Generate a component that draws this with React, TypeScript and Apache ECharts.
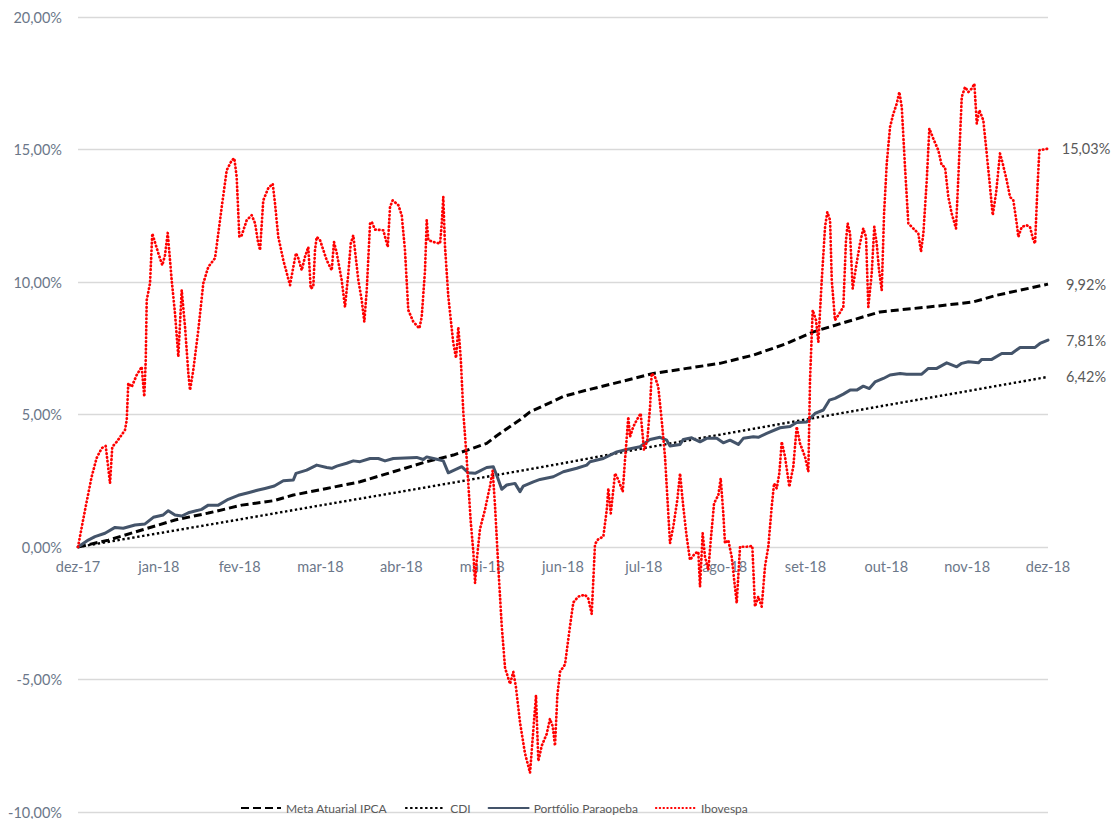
import React, { useEffect, useRef } from 'react';
import * as echarts from 'echarts';

// x = position in months from the start (0 = dez-17, 12 = dez-18), y = accumulated return (%)
const monthLabels = ['dez-17', 'jan-18', 'fev-18', 'mar-18', 'abr-18', 'mai-18', 'jun-18', 'jul-18', 'ago-18', 'set-18', 'out-18', 'nov-18', 'dez-18'];
const seriesNames = ['Meta Atuarial IPCA', 'CDI', 'Portfólio Paraopeba', 'Ibovespa'];
const yMin = -10;
const yMax = 20;
const yStep = 5;

const metaIPCA: [number, number][] = [
  [0, 0], [0.375, 0.26], [0.788, 0.64], [1.2, 1.02], [1.612, 1.28], [2.025, 1.58], [2.425, 1.75],
  [2.664, 1.96], [3.077, 2.21], [3.489, 2.46], [3.901, 2.84], [4.314, 3.22], [4.643, 3.47],
  [5.056, 3.91], [5.18, 4.2], [5.468, 4.8], [5.592, 5.1], [5.88, 5.5], [6.004, 5.68], [6.293, 5.92],
  [6.705, 6.23], [7.118, 6.55], [7.53, 6.74], [7.942, 6.93], [8.355, 7.24], [8.768, 7.68],
  [9.097, 8.12], [9.51, 8.5], [9.922, 8.87], [10.334, 9.0], [10.747, 9.13], [11.076, 9.25],
  [11.365, 9.5], [11.654, 9.69], [12, 9.92],
];

const cdi: [number, number][] = [
  [0, 0], [1, 0.52], [2, 1.04], [3, 1.57], [4, 2.09], [5, 2.62], [6, 3.16], [7, 3.73],
  [8, 4.27], [9, 4.81], [10, 5.35], [11, 5.88], [12, 6.42],
];

const portfolio: [number, number][] = [
  [0, 0], [0.127, 0.26], [0.21, 0.39], [0.334, 0.52], [0.458, 0.74], [0.56, 0.71], [0.705, 0.83],
  [0.829, 0.87], [0.932, 1.12], [1.055, 1.21], [1.117, 1.37], [1.2, 1.21], [1.283, 1.17],
  [1.365, 1.29], [1.53, 1.42], [1.612, 1.58], [1.736, 1.58], [1.859, 1.8], [1.983, 1.95],
  [2.107, 2.05], [2.231, 2.15], [2.313, 2.21], [2.429, 2.3], [2.54, 2.5], [2.664, 2.53],
  [2.697, 2.78], [2.829, 2.9], [2.953, 3.09], [3.077, 3.0], [3.139, 2.97], [3.201, 3.05],
  [3.324, 3.16], [3.406, 3.25], [3.489, 3.22], [3.613, 3.34], [3.715, 3.34], [3.798, 3.25],
  [3.901, 3.34], [4.19, 3.38], [4.272, 3.3], [4.314, 3.4], [4.438, 3.31], [4.519, 3.25],
  [4.581, 2.8], [4.747, 3.03], [4.829, 2.8], [4.912, 2.78], [5.056, 3.0], [5.138, 3.03],
  [5.187, 2.65], [5.242, 2.18], [5.304, 2.34], [5.406, 2.4], [5.468, 2.09], [5.509, 2.3],
  [5.633, 2.46], [5.716, 2.55], [5.88, 2.65], [6.004, 2.84], [6.17, 2.97], [6.293, 3.09],
  [6.334, 3.22], [6.499, 3.34], [6.665, 3.59], [6.788, 3.68], [6.953, 3.78], [7.077, 4.06],
  [7.2, 4.14], [7.283, 4.03], [7.324, 3.81], [7.448, 3.87], [7.489, 4.06], [7.592, 4.12],
  [7.695, 3.97], [7.778, 4.1], [7.902, 4.1], [7.983, 3.93], [8.066, 4.03], [8.169, 3.87],
  [8.231, 4.1], [8.355, 4.16], [8.416, 4.14], [8.52, 4.29], [8.685, 4.5], [8.809, 4.55],
  [8.891, 4.7], [9.015, 4.72], [9.118, 5.04], [9.221, 5.17], [9.295, 5.54], [9.365, 5.61],
  [9.468, 5.77], [9.551, 5.92], [9.634, 5.92], [9.715, 6.07], [9.79, 5.98], [9.86, 6.23],
  [9.963, 6.36], [10.046, 6.49], [10.17, 6.55], [10.252, 6.52], [10.438, 6.52], [10.52, 6.74],
  [10.624, 6.74], [10.747, 6.95], [10.871, 6.8], [10.933, 6.93], [11.015, 6.99], [11.139, 6.95],
  [11.181, 7.08], [11.304, 7.08], [11.428, 7.3], [11.551, 7.3], [11.654, 7.53], [11.84, 7.53],
  [11.901, 7.68], [12, 7.81],
];

const ibovespa: [number, number][] = [
  [0, 0], [0.087, 1.4], [0.169, 2.65], [0.231, 3.36], [0.293, 3.73], [0.343, 3.81], [0.396, 2.41],
  [0.424, 3.78], [0.479, 3.97], [0.581, 4.41], [0.603, 4.79], [0.622, 6.18], [0.664, 6.04],
  [0.726, 6.49], [0.788, 6.8], [0.82, 5.67], [0.838, 7.05], [0.85, 9.31], [0.891, 9.95],
  [0.919, 11.83], [0.993, 11.09], [1.043, 10.63], [1.076, 11.01], [1.11, 11.85], [1.159, 10.07],
  [1.2, 8.82], [1.241, 7.18], [1.283, 9.69], [1.324, 8.31], [1.365, 6.56], [1.386, 5.92],
  [1.426, 6.67], [1.488, 8.18], [1.55, 9.95], [1.612, 10.57], [1.695, 10.9], [1.736, 11.84],
  [1.778, 12.83], [1.84, 14.22], [1.902, 14.59], [1.934, 14.67], [1.963, 13.96], [1.996, 11.7],
  [2.025, 11.76], [2.087, 12.33], [2.149, 12.52], [2.19, 12.22], [2.223, 11.58], [2.252, 11.2],
  [2.292, 13.08], [2.354, 13.54], [2.409, 13.71], [2.437, 12.97], [2.478, 11.7], [2.54, 10.82],
  [2.623, 9.88], [2.664, 10.57], [2.697, 11.09], [2.725, 10.9], [2.768, 10.44], [2.808, 10.95],
  [2.849, 11.32], [2.879, 9.75], [2.911, 9.82], [2.932, 11.2], [2.953, 11.7], [2.994, 11.58],
  [3.077, 10.82], [3.139, 10.44], [3.167, 11.51], [3.201, 11.09], [3.262, 10.07], [3.303, 9.06],
  [3.344, 10.32], [3.374, 11.45], [3.406, 11.76], [3.468, 10.07], [3.51, 9.31], [3.542, 8.5],
  [3.572, 9.69], [3.613, 12.21], [3.634, 12.27], [3.674, 11.98], [3.777, 11.95], [3.832, 11.32],
  [3.86, 12.83], [3.893, 13.08], [3.963, 12.9], [4.005, 12.52], [4.045, 11.2], [4.086, 8.94],
  [4.148, 8.5], [4.223, 8.25], [4.252, 8.68], [4.293, 10.44], [4.314, 12.33], [4.334, 11.58],
  [4.396, 11.51], [4.479, 11.45], [4.5, 12.21], [4.519, 13.21], [4.54, 11.35], [4.581, 9.46],
  [4.643, 7.69], [4.677, 7.13], [4.705, 8.3], [4.735, 7.13], [4.767, 5.07], [4.809, 3.32],
  [4.858, 0.98], [4.891, -0.19], [4.912, -1.36], [4.933, -0.49], [4.973, 0.68], [5.035, 1.41],
  [5.097, 2.3], [5.13, 2.88], [5.159, 1.56], [5.2, -0.78], [5.242, -2.97], [5.283, -4.56],
  [5.345, -5.17], [5.385, -4.71], [5.419, -5.31], [5.468, -6.62], [5.53, -7.79], [5.592, -8.52],
  [5.633, -6.9], [5.666, -5.6], [5.695, -8.08], [5.737, -7.5], [5.799, -7.05], [5.839, -6.48],
  [5.873, -6.77], [5.901, -7.5], [5.93, -5.6], [5.963, -4.71], [6.025, -4.43], [6.087, -2.97],
  [6.128, -2.09], [6.19, -1.87], [6.272, -1.8], [6.313, -1.95], [6.355, -2.53], [6.396, 0.11],
  [6.437, 0.3], [6.499, 0.39], [6.541, 1.4], [6.561, 2.21], [6.591, 1.27], [6.644, 2.78],
  [6.685, 2.53], [6.739, 2.09], [6.767, 3.28], [6.808, 4.91], [6.829, 4.16], [6.87, 4.54],
  [6.912, 4.79], [6.961, 5.04], [7.002, 3.66], [7.043, 4.03], [7.077, 5.29], [7.097, 6.55],
  [7.138, 6.42], [7.179, 6.04], [7.221, 4.79], [7.262, 3.4], [7.324, 0.14], [7.365, 0.77],
  [7.414, 1.77], [7.448, 2.78], [7.488, 1.52], [7.53, 0.39], [7.571, -0.49], [7.633, -0.24],
  [7.674, -0.18], [7.695, -1.5], [7.728, 0.52], [7.757, -0.37], [7.798, -0.87], [7.828, 0.26],
  [7.869, 1.65], [7.922, 1.96], [7.951, 2.59], [7.983, 1.27], [8.004, 0.14], [8.045, 0.26],
  [8.087, -0.37], [8.149, -2.12], [8.19, 0.01], [8.273, 0.01], [8.342, 0.04], [8.375, -2.25],
  [8.416, -1.87], [8.458, -2.25], [8.499, -0.74], [8.54, 0.01], [8.582, 1.52], [8.611, 2.4],
  [8.644, 2.21], [8.676, 2.78], [8.706, 3.97], [8.747, 3.4], [8.8, 2.27], [8.849, 3.03],
  [8.891, 4.54], [8.932, 3.91], [8.994, 3.4], [9.035, 2.84], [9.056, 6.3], [9.089, 8.94],
  [9.13, 8.56], [9.159, 7.74], [9.201, 10.07], [9.242, 12.08], [9.27, 12.64], [9.304, 12.33],
  [9.325, 10.07], [9.365, 8.56], [9.419, 8.81], [9.468, 9.06], [9.501, 11.58], [9.522, 12.21],
  [9.551, 11.83], [9.584, 9.75], [9.625, 10.57], [9.674, 11.45], [9.715, 12.02], [9.749, 11.7],
  [9.777, 9.06], [9.819, 10.32], [9.851, 12.08], [9.881, 11.45], [9.91, 10.44], [9.943, 9.69],
  [9.972, 12.58], [10.005, 14.47], [10.046, 15.85], [10.087, 16.35], [10.129, 16.73],
  [10.161, 17.17], [10.191, 16.6], [10.231, 14.34], [10.272, 12.21], [10.334, 12.02],
  [10.396, 11.83], [10.429, 11.14], [10.458, 11.83], [10.5, 13.84], [10.532, 15.79],
  [10.581, 15.41], [10.643, 14.97], [10.685, 14.4], [10.726, 14.34], [10.767, 13.21],
  [10.809, 12.58], [10.862, 12.02], [10.891, 13.96], [10.933, 16.98], [10.974, 17.36],
  [11.015, 17.17], [11.057, 17.3], [11.089, 17.48], [11.119, 15.98], [11.151, 16.48],
  [11.2, 16.1], [11.242, 14.85], [11.283, 13.59], [11.316, 12.52], [11.357, 13.34],
  [11.406, 14.85], [11.44, 14.47], [11.489, 13.84], [11.53, 13.21], [11.571, 13.08],
  [11.613, 12.21], [11.633, 11.7], [11.675, 12.08], [11.736, 12.14], [11.777, 12.08],
  [11.818, 11.58], [11.84, 11.45], [11.868, 13.46], [11.893, 14.97], [11.942, 15.0], [12, 15.03],
];

const pct = (v: number) => v.toFixed(2).replace('.', ',') + '%';

export default function App() {
  const ref = useRef<HTMLDivElement>(null);

  useEffect(() => {
    document.body.style.margin = '0';
    if (!ref.current) return;
    const chart = echarts.init(ref.current, null, { renderer: 'svg' });
    const font = 'Lato, "Noto Sans", sans-serif';
    const axisColor = '#6b7789';
    const H = 819;
    const gridTop = 17;
    const gridBottom = 7;
    const plotH = H - gridTop - gridBottom;
    const zeroFromBottom = ((0 - yMin) / (yMax - yMin)) * plotH;

    const endLabel = {
      show: true,
      formatter: (p: any) => pct(p.value[1]),
      distance: 38,
      align: 'center',
      verticalAlign: 'middle',
      color: '#595959',
      fontSize: 14.5,
      fontFamily: font,
    };
    const seriesData = [metaIPCA, cdi, portfolio, ibovespa];
    const styles: any[] = [
      { color: '#000000', width: 3, type: [8, 4], cap: 'butt' },
      { color: '#000000', width: 2.4, type: [2.4, 2.6], cap: 'butt' },
      { color: '#44546A', width: 3, type: 'solid', cap: 'round' },
      { color: '#FF0000', width: 2.7, type: [0.5, 3.3], cap: 'round' },
    ];
    chart.setOption({
      animation: false,
      backgroundColor: '#ffffff',
      grid: {
        left: 78,
        right: 65,
        top: gridTop,
        bottom: gridBottom,
        containLabel: false,
        outerBoundsMode: 'none',
      },
      legend: {
        data: seriesNames,
        left: 235,
        top: 797,
        itemWidth: 40,
        itemHeight: 12,
        itemGap: 17,
        itemStyle: { color: 'rgba(0,0,0,0)', borderColor: 'rgba(0,0,0,0)', borderWidth: 0, opacity: 0 },
        textStyle: { color: '#595959', fontSize: 12, fontFamily: font },
      },
      xAxis: {
        type: 'value',
        min: 0,
        max: monthLabels.length - 1,
        interval: 1,
        position: 'bottom',
        offset: -zeroFromBottom,
        axisLine: { show: false, onZero: false },
        axisTick: { show: false },
        splitLine: { show: false },
        axisLabel: {
          color: axisColor,
          fontSize: 14.5,
          fontFamily: font,
          margin: 12,
          formatter: (v: number) => monthLabels[Math.round(v)] ?? '',
        },
      },
      yAxis: {
        type: 'value',
        min: yMin,
        max: yMax,
        interval: yStep,
        axisLine: { show: false, onZero: false },
        axisTick: { show: false },
        splitLine: { show: true, lineStyle: { color: '#d9d9d9', width: 1.3 } },
        axisLabel: {
          color: axisColor,
          fontSize: 14.5,
          fontFamily: font,
          margin: 16,
          formatter: (v: number) => pct(v),
        },
      },
      series: seriesNames.map((name, i) => ({
        name,
        type: 'line',
        data: seriesData[i],
        symbol: 'none',
        showSymbol: false,
        color: styles[i].color,
        lineStyle: { ...styles[i], join: 'round' },
        endLabel,
        z: 2 + i,
      })),
    });
    return () => chart.dispose();
  }, []);

  return <div ref={ref} style={{ width: 1113, height: 819 }} />;
}
